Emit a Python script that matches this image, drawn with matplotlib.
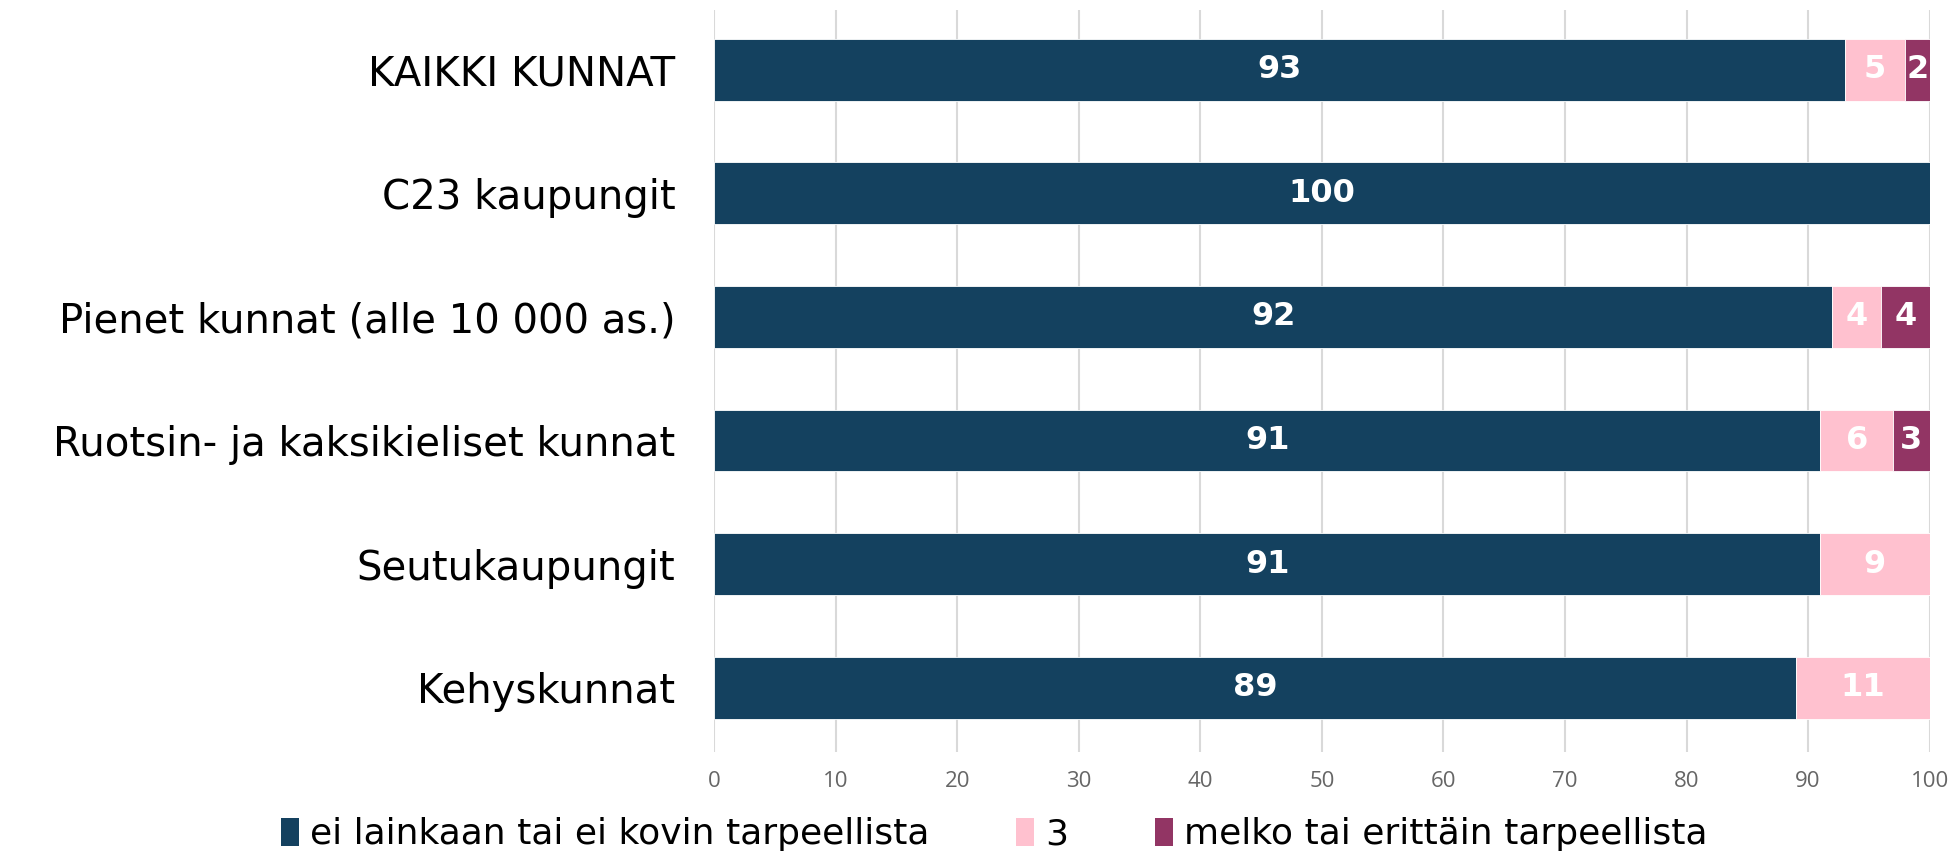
import matplotlib.pyplot as plt
from matplotlib.patches import Patch

categories = [
    'KAIKKI KUNNAT',
    'C23 kaupungit',
    'Pienet kunnat (alle 10 000 as.)',
    'Ruotsin- ja kaksikieliset kunnat',
    'Seutukaupungit',
    'Kehyskunnat',
]
ei_tarpeellista = [93, 100, 92, 91, 91, 89]
kolme = [5, 0, 4, 6, 9, 11]
tarpeellista = [2, 0, 4, 3, 0, 0]

series_names = ['ei lainkaan tai ei kovin tarpeellista', '3',
                'melko tai erittäin tarpeellista']
colors = ['#14415F', '#FFC1CF', '#923564']
ticks = [0, 10, 20, 30, 40, 50, 60, 70, 80, 90, 100]

plt.rcParams['font.family'] = ['DejaVu Sans']

fig = plt.figure(figsize=(19.57, 8.58), dpi=100)
ax = fig.add_axes([0.365, 0.1235, 0.621, 0.8645])

y = list(range(len(categories)))
left = [0] * len(categories)
for vals, color in zip([ei_tarpeellista, kolme, tarpeellista], colors):
    bars = ax.barh(y, vals, left=left, height=0.5, color=color,
                   edgecolor='white', linewidth=0.6, zorder=3)
    for b, v in zip(bars, vals):
        if v > 0:
            ax.text(b.get_x() + b.get_width() / 2, b.get_y() + b.get_height() / 2,
                    str(v), ha='center', va='center', color='white',
                    fontsize=23, fontweight='bold', zorder=4)
    left = [l + v for l, v in zip(left, vals)]

ax.set_xlim(0, 100)
ax.set_ylim(5.52, -0.48)
ax.set_yticks(y)
ax.set_yticklabels(categories, fontsize=29)
ax.set_xticks(ticks)
ax.set_xticklabels([str(t) for t in ticks], family='Open Sans')
ax.tick_params(axis='x', labelsize=16, labelcolor='#666666', length=0, pad=14)
ax.tick_params(axis='y', length=0, pad=28)
ax.grid(axis='x', color='#d9d9d9', linewidth=1.5, zorder=0)
for s in ax.spines.values():
    s.set_visible(False)

handles = [Patch(facecolor=c, edgecolor='none') for c in colors]
fig.legend(handles, series_names, loc='lower center', bbox_to_anchor=(0.508, -0.03),
           ncol=3, frameon=False, fontsize=26, handlelength=0.5, handleheight=0.8,
           handletextpad=0.3, columnspacing=2.4)

fig.savefig('out.png', dpi=100)
